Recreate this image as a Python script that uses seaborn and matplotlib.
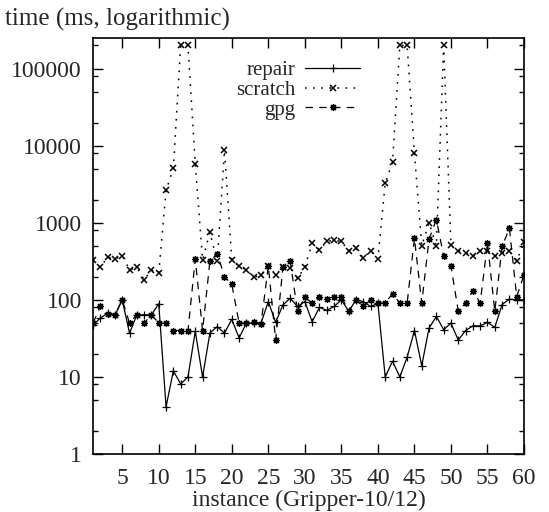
import numpy as np
import pandas as pd
import matplotlib
matplotlib.use("Agg")
import matplotlib.pyplot as plt
import matplotlib.ticker as mticker
import seaborn as sns

# values (ms), instances 1..60
instance = list(range(1, 61))
repair = [47, 58, 67, 63, 100, 37, 64, 64, 64, 89,
          4.1, 12, 8.1, 10, 39, 10, 37, 45, 37, 56,
          32, 50, 50, 50, 95, 51, 86, 105, 82, 95,
          52, 80, 73, 82, 100, 71, 100, 95, 82, 90,
          10, 16, 10, 18, 40, 14, 43, 61, 41, 50,
          30, 40, 46, 46, 51, 44, 87, 102, 100, 100]
scratch = [330, 265, 357, 337, 376, 245, 263, 182, 245, 222,
           2630, 5100, 200000, 200000, 5800, 330, 750, 315, 8700, 330,
           271, 245, 196, 211, 276, 211, 265, 258, 191, 265,
           546, 445, 573, 590, 573, 434, 468, 348, 434, 337,
           3300, 6100, 200000, 200000, 8000, 505, 1000, 502, 200000, 510,
           435, 405, 372, 435, 435, 372, 405, 425, 324, 555]
gpg = [50, 82, 66, 64, 100, 50, 64, 50, 64, 50,
       50, 40, 40, 40, 337, 40, 315, 398, 200, 159,
       50, 50, 51, 49, 276, 30, 265, 315, 71, 108,
       91, 110, 103, 110, 110, 71, 100, 82, 100, 91,
       91, 120, 91, 91, 630, 91, 614, 1100, 372, 276,
       71, 91, 132, 91, 546, 71, 493, 850, 110, 211]

y_ticks = [1, 10, 100, 1000, 10000, 100000]
x_ticks = list(range(5, 61, 5))

sns.set_style("ticks")
plt.rcParams["font.family"] = ["Liberation Serif", "DejaVu Serif"]
plt.rcParams["font.size"] = 17

fig, ax = plt.subplots(figsize=(5.49, 5.12), dpi=100)
fig.subplots_adjust(left=0.1694, right=0.9545, bottom=0.1133, top=0.9258)

sns.lineplot(x=instance, y=repair, ax=ax, estimator=None, color="black",
             linewidth=0.9, linestyle="-", marker="+", markersize=6,
             markeredgecolor="black", markeredgewidth=0.9, label="repair")
sns.lineplot(x=instance, y=scratch, ax=ax, estimator=None, color="black",
             linewidth=1.1, linestyle=(0, (1.1, 4.2)), marker="x", markersize=4,
             markeredgecolor="black", markeredgewidth=1.1, label="scratch")
sns.lineplot(x=instance, y=gpg, ax=ax, estimator=None, color="black",
             linewidth=0.9, linestyle=(0, (6, 5)), marker=(8, 2, 0), markersize=5,
             markeredgecolor="black", markeredgewidth=0.9, label="gpg")

ax.set_yscale("log")
ax.set_ylim(1, 250000)
ax.set_xlim(1, 60)
ax.set_yticks(y_ticks)
ax.yaxis.set_major_formatter(mticker.FuncFormatter(lambda v, p: f"{v:g}"))
ax.yaxis.set_minor_locator(mticker.LogLocator(base=10, subs=[2, 5, 8]))
ax.yaxis.set_minor_formatter(mticker.NullFormatter())
ax.set_xticks(x_ticks)

ax.tick_params(which="major", direction="in", top=True, right=True,
               length=7, width=1.0, color="black")
ax.tick_params(which="minor", direction="in", top=True, right=True,
               length=3.5, width=1.0, color="black")
ax.tick_params(axis="x", pad=10)
ax.tick_params(axis="y", pad=8)
for s in ax.spines.values():
    s.set_linewidth(1.2)
    s.set_color("black")

ax.set_xlabel("instance (Gripper-10/12)", labelpad=1)
ax.set_ylabel("")
fig.text(5 / 549, 1 - 26 / 512, "time (ms, logarithmic)", ha="left",
         va="baseline", fontsize=18)

# markerfirst=False right-aligns the rows, so labels end at the line samples
ax.legend(loc="upper right", bbox_to_anchor=(0.62, 0.945), frameon=False,
          fontsize=15, markerfirst=False, handlelength=2.64, handletextpad=0.48,
          labelspacing=0.0, borderpad=0, borderaxespad=0)

fig.savefig("out.png", dpi=100)
